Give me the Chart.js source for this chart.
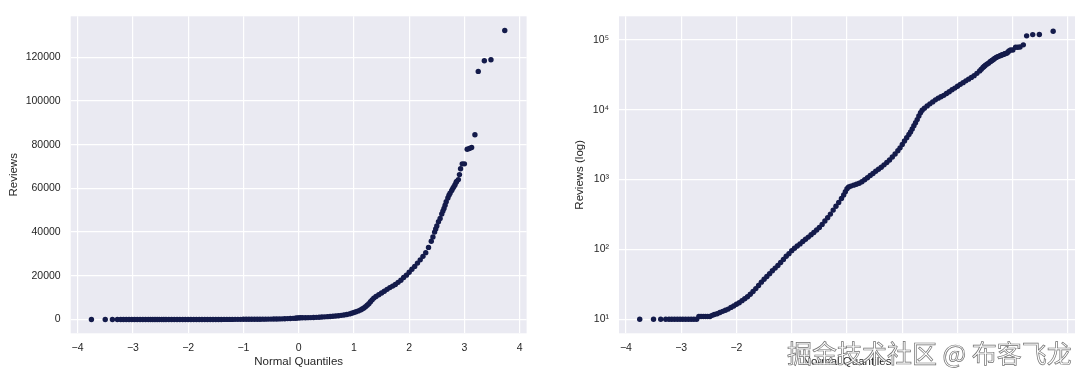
<!DOCTYPE html>
<html><head><meta charset="utf-8">
<script src="https://cdn.jsdelivr.net/npm/chart.js@4"></script>
<style>
html,body{margin:0;padding:0;background:#fff;width:1085px;height:381px;overflow:hidden}
#c1{position:absolute;left:0;top:0}
#c2{position:absolute;left:545px;top:0}
#wmbox{position:absolute;left:778px;top:338px;width:307px;height:17px;background:rgba(255,255,255,0.97)}
#wm{position:absolute;left:787px;top:334px;font-size:25px;font-family:"Noto Sans CJK SC";color:rgba(255,255,255,0.92);-webkit-text-stroke:0.7px #707070;white-space:nowrap}
</style></head><body>
<canvas id="c1" width="545" height="381"></canvas>
<canvas id="c2" width="540" height="381"></canvas>
<div id="wmbox"></div>
<div id="wm">掘金技术社区 @ 布客飞龙</div>
<script>
// Normal theoretical quantiles (x) and sorted review counts (y)
const quantiles = [
 -3.75,-3.50,-3.37,-3.28,-3.22,-3.17,-3.12,-3.07,-3.02,-2.97,-2.92,-2.87,-2.82,-2.77,-2.72,
 -2.68,-2.64,-2.60,-2.56,-2.52,-2.48,-2.44,-2.40,-2.35,-2.30,-2.25,-2.20,-2.15,-2.10,-2.05,
 -2.00,-1.95,-1.90,-1.85,-1.80,-1.75,-1.70,-1.65,-1.60,-1.55,-1.50,-1.45,-1.40,-1.35,-1.30,
 -1.25,-1.20,-1.15,-1.10,-1.05,-1.00,-0.95,-0.90,-0.85,-0.80,-0.75,-0.70,-0.65,-0.60,-0.55,
 -0.50,-0.45,-0.40,-0.35,-0.30,-0.25,-0.20,-0.15,-0.10,-0.06,-0.03,0.00,0.03,0.07,0.12,
 0.17,0.22,0.27,0.32,0.37,0.42,0.47,0.52,0.57,0.62,0.67,0.72,0.77,0.82,0.87,
 0.92,0.96,1.00,1.04,1.08,1.12,1.15,1.18,1.21,1.24,1.27,1.30,1.33,1.36,1.40,
 1.45,1.50,1.55,1.60,1.65,1.70,1.75,1.80,1.85,1.90,1.95,2.00,2.05,2.10,2.15,
 2.20,2.25,2.30,2.35,2.40,2.43,2.46,2.48,2.50,2.53,2.56,2.59,2.61,2.63,2.65,
 2.67,2.70,2.72,2.74,2.77,2.79,2.81,2.83,2.85,2.86,2.89,2.91,2.93,2.96,3.00,
 3.05,3.09,3.13,3.19,3.25,3.36,3.48,3.73
];
const reviews = [
 10,10,10,10,10,10,10,10,10,10,10,10,10,10,10,
 11,11,11,11,11,11,11.4,11.7,12,12.5,13,13.5,14,14.8,15.5,
 16.4,17.3,18.5,19.7,21,22.8,25,27.5,30.5,34,37.5,41,45,49.5,54,
 59,65,72,80,87,96,104,112,120,130,140,150,162,175,190,
 206,228,255,285,320,365,415,470,535,600,670,740,780,805,830,
 855,885,930,990,1060,1140,1220,1310,1400,1500,1620,1750,1900,2100,2320,
 2580,2840,3180,3550,3950,4400,4800,5300,5900,6500,7200,8100,9000,9800,10500,
 11300,12100,12900,13800,14600,15300,16000,17000,18000,19200,20300,21600,23000,24300,25800,
 27300,28900,30600,33000,35800,37800,40000,41400,42800,44700,46200,48300,49600,50800,52300,
 53900,55600,56900,57800,59000,60000,60800,61700,62800,63200,64000,66300,69000,71200,71200,
 77900,78200,78700,84500,113500,118400,118800,132200
];
const xTicks = [-4,-3,-2,-1,0,1,2,3,4];
const linTicks = [0,20000,40000,60000,80000,100000,120000];
const logTicks = [10,100,1000,10000,100000];
const logTickLabels = ['10\u00B9','10\u00B2','10\u00B3','10\u2074','10\u2075'];

const points = quantiles.map((q,i)=>({x:q,y:reviews[i]}));
const TXT = '#262626';
const FAM = '"Liberation Sans", Arial, "DejaVu Sans", sans-serif';
const fmtX = v => v < 0 ? '\u2212' + Math.abs(v) : String(v);

const bgPlugin = {id:'bg', beforeDraw(chart){
  const {ctx, chartArea:a} = chart;
  ctx.save(); ctx.fillStyle = '#EAEAF2';
  ctx.fillRect(a.left, a.top, a.right-a.left, a.bottom-a.top); ctx.restore();
}};

function xScale(){
  return {type:'linear', min:-4.125, max:4.125,
    afterBuildTicks: s => { s.ticks = xTicks.map(v=>({value:v})); },
    afterFit: s => { s.height = 47.7; },
    grid:{color:'#ffffff', lineWidth:1.2, drawTicks:false},
    border:{display:false},
    ticks:{padding:9, color:TXT, font:{family:FAM, size:10.5}, maxRotation:0, autoSkip:false,
      callback: v => fmtX(v)},
    title:{display:true, text:'Normal Quantiles', color:TXT, font:{family:FAM, size:11.5},
      padding:{top:0, bottom:12.6}}
  };
}

function makeChart(id, yCfg, padRight){
  return new Chart(document.getElementById(id), {
    type:'scatter',
    data:{datasets:[{data:points, pointRadius:2.7, pointHoverRadius:2.7, pointBorderWidth:0,
      pointBackgroundColor:'#141b4b', backgroundColor:'#141b4b', showLine:false}]},
    options:{responsive:false, animation:false, devicePixelRatio:1,
      layout:{padding:{left:0, top:8.5, right:padRight, bottom:0}},
      plugins:{legend:{display:false}, tooltip:{enabled:false}},
      scales:{x:xScale(), y:yCfg}
    },
    plugins:[bgPlugin]
  });
}

makeChart('c1', {type:'linear', min:-6300, max:138700,
  afterBuildTicks: s => { s.ticks = linTicks.map(v=>({value:v})); },
  afterFit: s => { s.width = 70.7; },
  grid:{color:'#ffffff', lineWidth:1.2, drawTicks:false},
  border:{display:false},
  ticks:{padding:10, color:TXT, font:{family:FAM, size:10.5}, callback: v => String(v)},
  title:{display:true, text:'Reviews', color:TXT, font:{family:FAM, size:11.5}, padding:{top:6.8, bottom:0}}
}, 18.4);

makeChart('c2', {type:'logarithmic', min:Math.pow(10,0.8), max:Math.pow(10,5.335),
  afterBuildTicks: s => { s.ticks = logTicks.map(v=>({value:v})); },
  afterFit: s => { s.width = 74; },
  grid:{color:'#ffffff', lineWidth:1.2, drawTicks:false},
  border:{display:false},
  ticks:{padding:10, color:TXT, font:{family:FAM, size:10.5},
    callback: v => { const i = logTicks.indexOf(v); return i >= 0 ? logTickLabels[i] : ''; }},
  title:{display:true, text:'Reviews (log)', color:TXT, font:{family:FAM, size:11.5}, padding:{top:27.5, bottom:0}}
}, 10);
</script>
</body></html>
